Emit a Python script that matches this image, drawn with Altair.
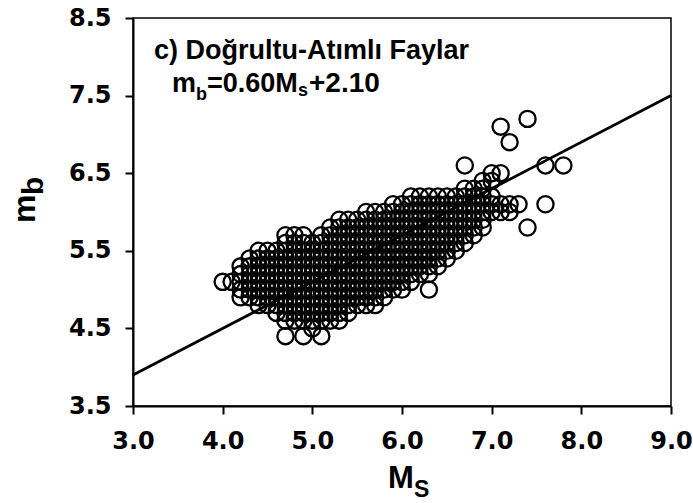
import altair as alt
import pandas as pd

# ---- data (Ms column -> list of mb values) ----
MS_COLUMNS = {
    4.0: [5.1],
    4.1: [5.1],
    4.2: [4.9, 5.0, 5.1, 5.2, 5.3],
    4.3: [4.9, 5.0, 5.1, 5.2, 5.3, 5.4],
    4.4: [4.8, 4.9, 5.0, 5.1, 5.2, 5.3, 5.4, 5.5],
    4.5: [4.8, 4.9, 5.0, 5.1, 5.2, 5.3, 5.4, 5.5],
    4.6: [4.7, 4.8, 4.9, 5.0, 5.1, 5.2, 5.3, 5.4, 5.5],
    4.7: [4.4, 4.6, 4.7, 4.8, 4.9, 5.0, 5.1, 5.2, 5.3, 5.4, 5.5, 5.6, 5.7],
    4.8: [4.6, 4.7, 4.8, 4.9, 5.0, 5.1, 5.2, 5.3, 5.4, 5.5, 5.6, 5.7],
    4.9: [4.4, 4.6, 4.7, 4.8, 4.9, 5.0, 5.1, 5.2, 5.3, 5.4, 5.5, 5.6, 5.7],
    5.0: [4.5, 4.6, 4.7, 4.8, 4.9, 5.0, 5.1, 5.2, 5.3, 5.4, 5.5, 5.6],
    5.1: [4.4, 4.6, 4.7, 4.8, 4.9, 5.0, 5.1, 5.2, 5.3, 5.4, 5.5, 5.6, 5.7],
    5.2: [4.6, 4.7, 4.8, 4.9, 5.0, 5.1, 5.2, 5.3, 5.4, 5.5, 5.6, 5.7, 5.8],
    5.3: [4.6, 4.7, 4.8, 4.9, 5.0, 5.1, 5.2, 5.3, 5.4, 5.5, 5.6, 5.7, 5.8, 5.9],
    5.4: [4.7, 4.8, 4.9, 5.0, 5.1, 5.2, 5.3, 5.4, 5.5, 5.6, 5.7, 5.8, 5.9],
    5.5: [4.8, 4.9, 5.0, 5.1, 5.2, 5.3, 5.4, 5.5, 5.6, 5.7, 5.8, 5.9],
    5.6: [4.8, 4.9, 5.0, 5.1, 5.2, 5.3, 5.4, 5.5, 5.6, 5.7, 5.8, 5.9, 6.0],
    5.7: [4.8, 4.9, 5.0, 5.1, 5.2, 5.3, 5.4, 5.5, 5.6, 5.7, 5.8, 5.9, 6.0],
    5.8: [4.9, 5.0, 5.1, 5.2, 5.3, 5.4, 5.5, 5.6, 5.7, 5.8, 5.9, 6.0],
    5.9: [5.0, 5.1, 5.2, 5.3, 5.4, 5.5, 5.6, 5.7, 5.8, 5.9, 6.0, 6.1],
    6.0: [5.0, 5.1, 5.2, 5.3, 5.4, 5.5, 5.6, 5.7, 5.8, 5.9, 6.0, 6.1],
    6.1: [5.1, 5.2, 5.3, 5.4, 5.5, 5.6, 5.7, 5.8, 5.9, 6.0, 6.1, 6.2],
    6.2: [5.2, 5.3, 5.4, 5.5, 5.6, 5.7, 5.8, 5.9, 6.0, 6.1, 6.2],
    6.3: [5.0, 5.2, 5.3, 5.4, 5.5, 5.6, 5.7, 5.8, 5.9, 6.0, 6.1, 6.2],
    6.4: [5.3, 5.4, 5.5, 5.6, 5.7, 5.8, 5.9, 6.0, 6.1, 6.2],
    6.5: [5.4, 5.5, 5.6, 5.7, 5.8, 5.9, 6.0, 6.1, 6.2],
    6.6: [5.5, 5.6, 5.7, 5.8, 5.9, 6.0, 6.1, 6.2],
    6.7: [5.6, 5.7, 5.8, 5.9, 6.0, 6.1, 6.2, 6.3, 6.6],
    6.8: [5.7, 5.8, 5.9, 6.0, 6.1, 6.2, 6.3],
    6.9: [5.8, 5.9, 6.0, 6.1, 6.2, 6.3, 6.4],
    7.0: [6.0, 6.1, 6.2, 6.4, 6.5],
    7.1: [6.0, 6.1, 6.5, 7.1],
    7.2: [6.0, 6.1, 6.9],
    7.3: [6.1],
    7.4: [5.8, 7.2],
    7.6: [6.1, 6.6],
    7.8: [6.6],
}

# regression line mb = 0.60 Ms + 2.10 (end points)
LINE_MS = [3.0, 9.0]
LINE_MB = [3.9, 7.5]

X_TICKS = [3.0, 4.0, 5.0, 6.0, 7.0, 8.0, 9.0]
Y_TICKS = [3.5, 4.5, 5.5, 6.5, 7.5, 8.5]

TITLE_LINE1 = "c) Doğrultu-Atımlı Faylar"
EQ_PARTS = ["m", "b", "=0.60M", "s", "+2.10"]
X_TITLE = ["M", "S"]
Y_TITLE = ["m", "b"]

rows = [{"Ms": x, "mb": y} for x, ys in MS_COLUMNS.items() for y in ys]
pts = pd.DataFrame(rows)
line_df = pd.DataFrame({"Ms": LINE_MS, "mb": LINE_MB})
one = pd.DataFrame({"k": [0]})

W, H = 538, 388
xscale = alt.Scale(domain=[3.0, 9.0], nice=False, zero=False)
yscale = alt.Scale(domain=[3.5, 8.5], nice=False, zero=False)

common_axis = dict(
    format=".1f", grid=False, title=None,
    labelFont="DejaVu Sans", labelFontWeight="bold", labelFontSize=24,
    labelColor="black", tickColor="black", tickWidth=2, tickSize=8,
    domainColor="black", domainWidth=2, labelFlush=False, labelOverlap=False,
)

xenc = alt.X("Ms:Q", scale=xscale,
             axis=alt.Axis(values=X_TICKS, labelPadding=15, **common_axis))
yenc = alt.Y("mb:Q", scale=yscale,
             axis=alt.Axis(values=Y_TICKS, labelPadding=14, **common_axis))

line = alt.Chart(line_df).mark_line(color="black", strokeWidth=2.8).encode(
    x=xenc, y=yenc)

points = alt.Chart(pts).mark_point(
    shape="circle", filled=False, fill=None, size=262,
    stroke="black", strokeWidth=2.3, opacity=1,
).encode(x=alt.X("Ms:Q", scale=xscale), y=alt.Y("mb:Q", scale=yscale))

FONT = "Liberation Sans"


def txt(t, px, py, size, angle=0):
    kw = dict(text=t, font=FONT, fontWeight="bold", fontSize=size,
              color="black", align="left", baseline="alphabetic")
    if angle:
        kw["angle"] = angle
    return alt.Chart(one).mark_text(**kw).encode(
        x=alt.value(px), y=alt.value(py))


# positions relative to plot area origin
texts = [
    txt(TITLE_LINE1, 21, 41, 27),
    txt(EQ_PARTS[0], 39, 74, 27),
    txt(EQ_PARTS[1], 63, 82, 18),
    txt(EQ_PARTS[2], 74, 74, 27),
    txt(EQ_PARTS[3], 165, 78, 18),
    txt(EQ_PARTS[4], 176, 74, 28),
    txt(X_TITLE[0], 255, 470, 31),
    txt(X_TITLE[1], 281, 479, 23),
    txt(Y_TITLE[0], -98, 205, 32, angle=270),
    txt(Y_TITLE[1], -90, 177, 30, angle=270),
]

chart = alt.layer(line, points, *texts).properties(
    width=W, height=H,
    autosize=alt.AutoSizeParams(type="none"),
    padding={"left": 133, "top": 18, "right": 22, "bottom": 97},
    background="white",
).configure_view(stroke="black", strokeWidth=1.5)

chart.save("out.html", embed_options={"renderer": "svg", "actions": False})
